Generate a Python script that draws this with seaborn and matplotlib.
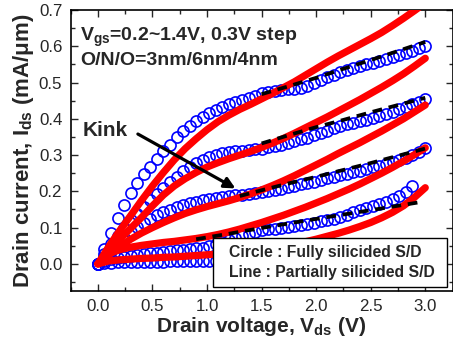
import matplotlib
matplotlib.use("Agg")
import matplotlib.pyplot as plt
import seaborn as sns
import pandas as pd
from matplotlib.patches import Rectangle
from matplotlib.ticker import MultipleLocator, FormatStrFormatter

# ---------------- data ----------------
vgs_labels = ["1.4", "1.1", "0.8", "0.5", "0.2"]

v_circle = [0.00, 0.06, 0.12, 0.18, 0.24, 0.30, 0.36, 0.42, 0.48, 0.54,
            0.60, 0.66, 0.72, 0.78, 0.84, 0.90, 0.96, 1.02, 1.08, 1.14,
            1.20, 1.26, 1.32, 1.38, 1.44, 1.50, 1.56, 1.62, 1.68, 1.74,
            1.80, 1.86, 1.92, 1.98, 2.04, 2.10, 2.16, 2.22, 2.28, 2.34,
            2.40, 2.46, 2.52, 2.58, 2.64, 2.70, 2.76, 2.82, 2.88, 2.94, 3.00]

circ_14 = [0.000, 0.042, 0.084, 0.126, 0.163, 0.195, 0.222, 0.247, 0.268, 0.289,
           0.310, 0.328, 0.350, 0.365, 0.380, 0.393, 0.404, 0.415, 0.425, 0.433,
           0.440, 0.446, 0.452, 0.458, 0.464, 0.470, 0.473, 0.476, 0.479, 0.481,
           0.482, 0.485, 0.490, 0.498, 0.506, 0.515, 0.522, 0.529, 0.534, 0.539,
           0.545, 0.550, 0.555, 0.559, 0.564, 0.570, 0.576, 0.582, 0.588, 0.594, 0.600]
circ_11 = [0.000, 0.028, 0.054, 0.078, 0.100, 0.120, 0.138, 0.157, 0.177, 0.194,
           0.210, 0.226, 0.240, 0.255, 0.267, 0.278, 0.287, 0.295, 0.300, 0.305,
           0.308, 0.310, 0.312, 0.314, 0.316, 0.318, 0.321, 0.325, 0.329, 0.333,
           0.338, 0.343, 0.348, 0.354, 0.360, 0.367, 0.374, 0.380, 0.385, 0.389,
           0.393, 0.397, 0.402, 0.408, 0.414, 0.420, 0.426, 0.432, 0.440, 0.447, 0.455]
circ_08 = [0.000, 0.018, 0.036, 0.054, 0.071, 0.087, 0.101, 0.114, 0.125, 0.134,
           0.142, 0.149, 0.156, 0.162, 0.167, 0.171, 0.175, 0.178, 0.181, 0.184,
           0.186, 0.189, 0.191, 0.193, 0.195, 0.197, 0.200, 0.204, 0.207, 0.211,
           0.215, 0.219, 0.223, 0.227, 0.231, 0.236, 0.240, 0.244, 0.248, 0.252,
           0.256, 0.261, 0.266, 0.271, 0.276, 0.282, 0.287, 0.293, 0.300, 0.309, 0.320]
circ_05 = [0.000, 0.008, 0.013, 0.017, 0.020, 0.023, 0.025, 0.027, 0.029, 0.031,
           0.033, 0.035, 0.037, 0.039, 0.041, 0.043, 0.045, 0.048, 0.054, 0.059,
           0.065, 0.071, 0.077, 0.083, 0.088, 0.092, 0.095, 0.097, 0.099, 0.101,
           0.103, 0.106, 0.109, 0.113, 0.117, 0.121, 0.125, 0.130, 0.136, 0.142,
           0.148, 0.154, 0.159, 0.165, 0.171, 0.178, 0.187, 0.198, 0.214]
circ_02 = [0.000, 0.002, 0.003, 0.004, 0.004, 0.005, 0.005, 0.005, 0.006, 0.006,
           0.006, 0.007, 0.007, 0.007, 0.008, 0.008, 0.008, 0.009, 0.009, 0.010,
           0.010, 0.011, 0.011, 0.012, 0.012, 0.013, 0.014, 0.015, 0.016, 0.017,
           0.018, 0.019, 0.020, 0.021, 0.022, 0.024, 0.025, 0.026, 0.028, 0.029,
           0.031, 0.033, 0.034, 0.036, 0.038, 0.040, 0.042, 0.044, 0.046, 0.048, 0.050]

v_line = [0.0, 0.1, 0.2, 0.3, 0.4, 0.5, 0.6, 0.7, 0.8, 0.9,
          1.0, 1.1, 1.2, 1.3, 1.4, 1.5, 1.6, 1.7, 1.8, 1.9,
          2.0, 2.1, 2.2, 2.3, 2.4, 2.5, 2.6, 2.7, 2.8, 2.9, 3.0]

line_14 = [0, 0.048, 0.092, 0.133, 0.175, 0.215, 0.252, 0.287, 0.318, 0.345,
           0.370, 0.392, 0.410, 0.426, 0.440, 0.455, 0.470, 0.486, 0.502, 0.520,
           0.538, 0.556, 0.573, 0.589, 0.605, 0.621, 0.638, 0.657, 0.677, 0.698, 0.720]
line_11 = [0, 0.035, 0.068, 0.098, 0.128, 0.160, 0.190, 0.215, 0.235, 0.252,
           0.267, 0.279, 0.290, 0.300, 0.310, 0.321, 0.333, 0.346, 0.360, 0.375,
           0.390, 0.405, 0.421, 0.437, 0.453, 0.470, 0.487, 0.505, 0.524, 0.545, 0.567]
line_08 = [0, 0.025, 0.048, 0.068, 0.085, 0.100, 0.114, 0.127, 0.139, 0.149,
           0.158, 0.166, 0.174, 0.183, 0.193, 0.204, 0.216, 0.229, 0.243, 0.258,
           0.273, 0.288, 0.304, 0.319, 0.334, 0.350, 0.366, 0.383, 0.400, 0.419, 0.438]
line_05 = [0, 0.028, 0.039, 0.046, 0.051, 0.055, 0.059, 0.062, 0.066, 0.070,
           0.075, 0.081, 0.088, 0.096, 0.105, 0.114, 0.124, 0.134, 0.145, 0.156,
           0.168, 0.180, 0.193, 0.206, 0.220, 0.235, 0.250, 0.266, 0.283, 0.301, 0.320]
line_02 = [0, 0.008, 0.011, 0.013, 0.015, 0.016, 0.018, 0.019, 0.021, 0.023,
           0.025, 0.027, 0.030, 0.033, 0.036, 0.040, 0.044, 0.049, 0.055, 0.061,
           0.068, 0.076, 0.084, 0.093, 0.103, 0.114, 0.127, 0.142, 0.160, 0.183, 0.210]

dash_v_14 = [1.5, 1.75, 2.0, 2.25, 2.5, 2.75, 3.0]
dash_14 = [0.468, 0.490, 0.513, 0.538, 0.562, 0.587, 0.612]
dash_v_11 = [1.5, 1.75, 2.0, 2.25, 2.5, 2.75, 3.0]
dash_11 = [0.332, 0.355, 0.377, 0.397, 0.418, 0.438, 0.458]
dash_v_08 = [1.3, 1.5, 1.75, 2.0, 2.25, 2.5, 2.75, 3.0]
dash_08 = [0.187, 0.203, 0.222, 0.240, 0.259, 0.278, 0.298, 0.318]
dash_v_05 = [0.9, 1.2, 1.5, 2.0, 2.5, 2.95]
dash_05 = [0.068, 0.083, 0.099, 0.124, 0.148, 0.170]

circles = [circ_14, circ_11, circ_08, circ_05, circ_02]
lines = [line_14, line_11, line_08, line_05, line_02]
dashes = [(dash_v_14, dash_14), (dash_v_11, dash_11), (dash_v_08, dash_08), (dash_v_05, dash_05)]

# ---------------- style ----------------
sns.set_style("ticks")
plt.rcParams["font.family"] = ["Liberation Sans", "DejaVu Sans"]
plt.rcParams["mathtext.fontset"] = "custom"
plt.rcParams["mathtext.rm"] = "Liberation Sans"
plt.rcParams["mathtext.bf"] = "Liberation Sans:bold"
plt.rcParams["mathtext.it"] = "Liberation Sans:italic"

fig = plt.figure(figsize=(4.53, 3.40), dpi=100)
ax = fig.add_axes([0.156, 0.144, 0.843, 0.8265])

for lab, c in zip(vgs_labels, circles):
    df = pd.DataFrame({"V": v_circle[:len(c)], "I": c})
    sns.lineplot(data=df, x="V", y="I", ax=ax, estimator=None, sort=False,
                 linestyle="", marker="o", markersize=8.0,
                 markerfacecolor="none", markeredgecolor="#0000ff",
                 markeredgewidth=1.2, zorder=2)

for lab, l in zip(vgs_labels, lines):
    df = pd.DataFrame({"V": v_line, "I": l})
    sns.lineplot(data=df, x="V", y="I", ax=ax, estimator=None, sort=False,
                 color="#ff0000", linewidth=5.2, zorder=3, solid_capstyle="round")

for dv, di in dashes:
    df = pd.DataFrame({"V": dv, "I": di})
    sns.lineplot(data=df, x="V", y="I", ax=ax, estimator=None, sort=False,
                 color="black", linewidth=2.7, zorder=4,
                 linestyle=(0, (2.6, 1.8)))

ax.set_xlim(-0.25, 3.25)
ax.set_ylim(-0.075, 0.70)
ax.xaxis.set_major_locator(MultipleLocator(0.5))
ax.xaxis.set_minor_locator(MultipleLocator(0.25))
ax.yaxis.set_major_locator(MultipleLocator(0.1))
ax.yaxis.set_minor_locator(MultipleLocator(0.05))
ax.xaxis.set_major_formatter(FormatStrFormatter("%.1f"))
ax.yaxis.set_major_formatter(FormatStrFormatter("%.1f"))
ax.tick_params(which="both", direction="in", top=True, right=True,
               width=1.0, labelsize=12.2)
ax.tick_params(axis="x", which="major", pad=6)
ax.tick_params(axis="y", which="major", pad=6)
ax.tick_params(which="major", length=5)
ax.tick_params(which="minor", length=3)
for s in ax.spines.values():
    s.set_linewidth(1.2)
    s.set_color("black")

ax.set_xlabel(r"Drain voltage, $\mathbf{V_{ds}}$ (V)", fontsize=15,
              fontweight="bold", labelpad=0.5)
ax.set_ylabel(r"Drain current, $\mathbf{I_{ds}}$ (mA/μm)", fontsize=16,
              fontweight="bold", labelpad=2)

ax.text(-0.165, 0.614, r"$\mathbf{V_{gs}}$=0.2~1.4V, 0.3V step",
        fontsize=14, fontweight="bold", va="baseline", ha="left", zorder=6)
ax.text(-0.165, 0.548, "O/N/O=3nm/6nm/4nm",
        fontsize=14, fontweight="bold", va="baseline", ha="left", zorder=6)

ax.text(-0.137, 0.353, "Kink", fontsize=15, fontweight="bold",
        va="baseline", ha="left", zorder=6)
ax.annotate("", xy=(1.26, 0.208), xytext=(0.366, 0.358),
            arrowprops=dict(arrowstyle="-|>", lw=2.3, color="black",
                            mutation_scale=16, shrinkA=0, shrinkB=0),
            zorder=6)

ax.add_patch(Rectangle((0.372, 0.014), 0.614, 0.175, transform=ax.transAxes,
                       facecolor="white", edgecolor="black", lw=1.0, zorder=7))
ax.text(0.414, 0.121, "Circle : Fully silicided S/D", transform=ax.transAxes,
        fontsize=11.3, fontweight="bold", va="baseline", ha="left", zorder=8)
ax.text(0.414, 0.050, "Line : Partially silicided S/D", transform=ax.transAxes,
        fontsize=11.3, fontweight="bold", va="baseline", ha="left", zorder=8)

fig.savefig("out.png", dpi=100)
